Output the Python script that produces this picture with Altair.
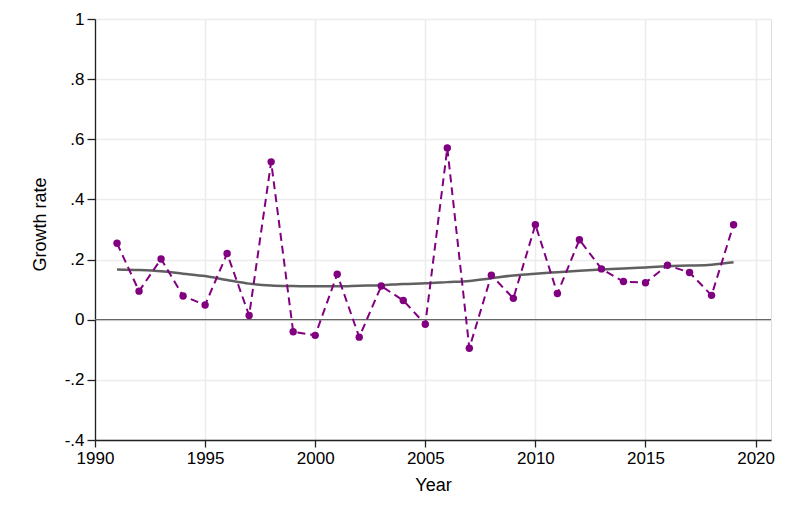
import altair as alt
import pandas as pd

years = list(range(1991, 2020))
growth = [0.254, 0.095, 0.202, 0.079, 0.049, 0.220, 0.014, 0.525, -0.040, -0.052,
          0.151, -0.058, 0.112, 0.064, -0.015, 0.571, -0.095, 0.148, 0.071, 0.316,
          0.087, 0.266, 0.169, 0.127, 0.123, 0.181, 0.157, 0.081, 0.316]
trend = [0.167, 0.165, 0.161, 0.153, 0.145, 0.132, 0.120, 0.114, 0.112, 0.111,
         0.111, 0.113, 0.115, 0.119, 0.121, 0.125, 0.129, 0.138, 0.147, 0.153,
         0.158, 0.163, 0.167, 0.170, 0.174, 0.178, 0.180, 0.183, 0.191]

df = pd.DataFrame({"Year": years, "Growth": growth, "Trend": trend})

FONT = "Liberation Sans"

xscale = alt.Scale(domain=[1990, 2020.7], nice=False, zero=False)
yscale = alt.Scale(domain=[-0.4, 1.0], nice=False)

xaxis = alt.Axis(values=[1990, 1995, 2000, 2005, 2010, 2015, 2020], format="d",
                 title="Year", grid=True, gridColor="#ececec", gridWidth=1.5,
                 domainColor="#222222", domainWidth=1.3, tickColor="#222222",
                 tickSize=7, tickWidth=1.3, labelFontSize=17, labelPadding=3,
                 labelColor="#000000", titleFontSize=18, titleFontWeight="normal",
                 titleColor="#000000", titlePadding=10, labelFont=FONT, titleFont=FONT,
                 labelFlush=False)
yaxis = alt.Axis(values=[-0.4, -0.2, 0, 0.2, 0.4, 0.6, 0.8, 1.0],
                 labelExpr="replace(replace(format(datum.value, '.1~f'), '0.', '.'), '\u2212', '-')",
                 title="Growth rate", grid=True, gridColor="#ececec", gridWidth=1.5,
                 domainColor="#222222", domainWidth=1.3, tickColor="#222222",
                 tickSize=8, tickWidth=1.3, labelFontSize=17, labelPadding=3,
                 labelColor="#000000", titleFontSize=18, titleFontWeight="normal",
                 titleColor="#000000", titlePadding=15, titleY=205,
                 labelFont=FONT, titleFont=FONT, labelFlush=False)

base = alt.Chart(df)

zero = alt.Chart(pd.DataFrame({"y": [0]})).mark_rule(color="#666666", strokeWidth=1.3).encode(
    y=alt.Y("y:Q", scale=yscale, axis=yaxis)
)

line = base.mark_line(color="#800080", strokeWidth=2, strokeDash=[8, 5]).encode(
    x=alt.X("Year:Q", scale=xscale, axis=xaxis),
    y=alt.Y("Growth:Q", scale=yscale, axis=yaxis),
)
pts = base.mark_circle(color="#800080", size=55, opacity=1).encode(
    x=alt.X("Year:Q", scale=xscale),
    y=alt.Y("Growth:Q", scale=yscale),
)
tr = base.mark_line(color="#606060", strokeWidth=2.5, interpolate="monotone").encode(
    x=alt.X("Year:Q", scale=xscale),
    y=alt.Y("Trend:Q", scale=yscale),
)

chart = alt.layer(zero, tr, line, pts).properties(
    width=676, height=421,
    autosize=alt.AutoSizeParams(type="none"),
    padding={"left": 87, "top": 11, "right": 5, "bottom": 70},
).configure_view(stroke=None).configure(background="white")

chart.save("out.html", embed_options={"renderer": "svg", "actions": False})
